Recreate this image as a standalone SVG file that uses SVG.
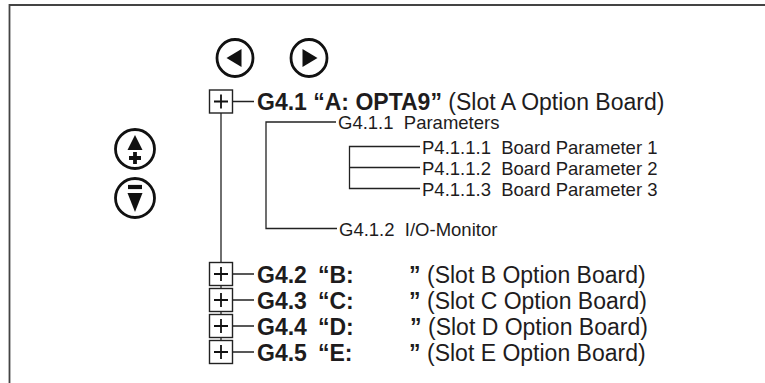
<svg xmlns="http://www.w3.org/2000/svg" width="765" height="383" viewBox="0 0 765 383">
<style>
.ln{fill:none;stroke:#222;stroke-width:1.3}
.frame{fill:none;stroke:#444;stroke-width:1.8}
.btn{fill:none;stroke:#111;stroke-width:2.8}
.box{fill:#fff;stroke:#222;stroke-width:1.4}
.pl{fill:none;stroke:#111;stroke-width:1.8}
.t{font-family:"Liberation Sans",Arial,sans-serif;fill:#1e1c1d}
.big{font-size:23px}
.sm{font-size:18.5px}
.b{font-weight:bold}
</style>
<rect x="0" y="0" width="765" height="383" fill="#fff"/>
<path class="frame" d="M9.5,383 V5 H765"/>
<g id="btn-left"><ellipse class="btn" cx="235" cy="58" rx="18" ry="18.5"/><path d="M226.5,58 L241.5,49 V67 Z" fill="#111"/></g>
<g id="btn-right"><ellipse class="btn" cx="309" cy="58" rx="18" ry="18.5"/><path d="M317.5,58 L302.5,49 V67 Z" fill="#111"/></g>
<g id="btn-up"><ellipse class="btn" cx="135" cy="149" rx="19.5" ry="19.5"/><path d="M135,135 L142.5,150 H127.5 Z" fill="#111"/><path d="M135,152 V164 M129,158 H141" stroke="#111" stroke-width="3.8"/></g>
<g id="btn-down"><ellipse class="btn" cx="135" cy="198" rx="19.5" ry="19.5"/><path d="M128,187 H142" stroke="#111" stroke-width="4.2"/><path d="M135,212 L142.5,193 H127.5 Z" fill="#111"/></g>
<g id="connectors">
<path class="ln" d="M221,113 V352"/>
<path class="ln" d="M232,101.5 H254 M232,274 H254 M232,300 H254 M232,326 H254 M232,352 H254"/>
<path class="ln" d="M336,122 H266 V228.5 H337"/>
<path class="ln" d="M420,146.5 H349.5 V188.5 H420 M349.5,167.5 H420"/>
</g>
<g id="g41"><rect class="box" x="209.5" y="90" width="23" height="23"/><path class="pl" d="M221,94.5 V108.5 M214,101.5 H228"/>
<text class="t big" x="257" y="110"><tspan class="b">G4.1 “A: OPTA9”</tspan> (Slot A Option Board)</text></g>
<g id="g411"><text class="t sm" x="338" y="129" xml:space="preserve">G4.1.1  Parameters</text></g>
<g id="p4111"><text class="t sm" x="422" y="154" xml:space="preserve">P4.1.1.1  Board Parameter 1</text></g>
<g id="p4112"><text class="t sm" x="422" y="175" xml:space="preserve">P4.1.1.2  Board Parameter 2</text></g>
<g id="p4113"><text class="t sm" x="422" y="196" xml:space="preserve">P4.1.1.3  Board Parameter 3</text></g>
<g id="g412"><text class="t sm" x="339" y="235.5" xml:space="preserve">G4.1.2  I/O-Monitor</text></g>
<g id="g42"><rect class="box" x="209.5" y="262.5" width="23" height="23"/><path class="pl" d="M221,267 V281 M214,274 H228"/>
<text class="t big" y="282.5"><tspan class="b" x="257">G4.2</tspan><tspan class="b" x="318">“B:</tspan><tspan class="b" x="409">”</tspan><tspan x="427">(Slot B Option Board)</tspan></text></g>
<g id="g43"><rect class="box" x="209.5" y="288.5" width="23" height="23"/><path class="pl" d="M221,293 V307 M214,300 H228"/>
<text class="t big" y="308.5"><tspan class="b" x="257">G4.3</tspan><tspan class="b" x="318">“C:</tspan><tspan class="b" x="409">”</tspan><tspan x="427">(Slot C Option Board)</tspan></text></g>
<g id="g44"><rect class="box" x="209.5" y="314.5" width="23" height="23"/><path class="pl" d="M221,319 V333 M214,326 H228"/>
<text class="t big" y="334.5"><tspan class="b" x="257">G4.4</tspan><tspan class="b" x="318">“D:</tspan><tspan class="b" x="410">”</tspan><tspan x="428">(Slot D Option Board)</tspan></text></g>
<g id="g45"><rect class="box" x="209.5" y="340.5" width="23" height="23"/><path class="pl" d="M221,345 V359 M214,352 H228"/>
<text class="t big" y="360.5"><tspan class="b" x="257">G4.5</tspan><tspan class="b" x="318">“E:</tspan><tspan class="b" x="409">”</tspan><tspan x="427">(Slot E Option Board)</tspan></text></g>
</svg>
